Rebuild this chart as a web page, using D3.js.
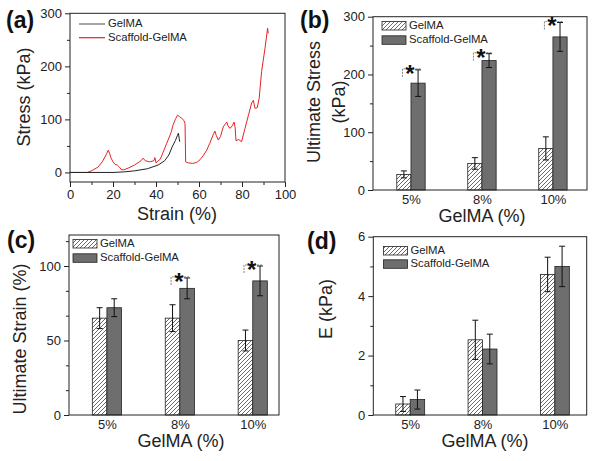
<!DOCTYPE html>
<html><head><meta charset="utf-8">
<script src="https://cdn.jsdelivr.net/npm/d3@7"></script>
<style>
html,body{margin:0;padding:0;background:#fff;}
svg{display:block;font-family:"Liberation Sans",Arial,sans-serif;}
</style></head>
<body>
<svg id="c" width="601" height="461"></svg>
<script>
// ---------- DATA ----------
const categories = ["5%", "8%", "10%"];
const seriesNames = ["GelMA", "Scaffold-GelMA"];

// (a) stress-strain curves [strain %, stress kPa]
const curveGelMA = [[0,0],[20,0],[25,1],[30,3],[36,7],[41,14],[44,22],[46,33],[47.5,48],[49,60],[50,70],[50.4,74],[50.8,64],[51,58]];
const curveScaffold = [[0,0],[8,0],[10,3],[13,10],[15,20],[17,35],[17.8,42],[18.5,35],[19,28],[20,20],[21,15],[22,14],[23,10],[24,5],[25,5],[27,8],[30,14],[33,22],[34,27],[35,22],[37,20],[39,22],[39.5,28],[40,18],[41,22],[42,25],[43,35],[45,55],[47,75],[48,90],[49,100],[50,108],[51,105],[52,102],[53,98],[53.5,92],[53.8,20],[55,18],[57,17],[59,19],[60.5,24],[62,32],[63.6,42],[65,55],[66.7,72],[67.4,78],[68,70],[69,61],[70,68],[71.3,86],[72.9,95],[73.5,88],[74.4,83],[75.5,88],[76.3,95],[76.8,85],[77.2,60],[78.5,62],[79.8,58],[81.4,83],[83,108],[84.5,131],[85.3,136],[86,121],[87.1,122],[88,140],[89.1,190],[90.7,234],[91.9,272],[92.2,262]];
const aXTicks = [0,20,40,60,80,100];
const aYTicks = [0,100,200,300];

// (b) ultimate stress (kPa)
const stressGelMA = [27, 46, 72];
const stressGelMAErr = [6, 10, 20];
const stressScaffold = [185, 224, 265];
const stressScaffoldErr = [23, 12, 25];
const stressSig = [true, true, true];
const bYTicks = [0,100,200,300];

// (c) ultimate strain (%)
const strainGelMA = [65, 65, 50];
const strainGelMAErr = [7, 9, 7];
const strainScaffold = [72, 85, 90];
const strainScaffoldErr = [6, 7, 10];
const strainSig = [false, true, true];
const cYTicks = [0,50,100];

// (d) modulus E (kPa)
const modGelMA = [0.37, 2.53, 4.73];
const modGelMAErr = [0.25, 0.66, 0.58];
const modScaffold = [0.52, 2.22, 5.0];
const modScaffoldErr = [0.32, 0.5, 0.68];
const modSig = [false, false, false];
const dYTicks = [0,2,4,6];

// ---------- DRAW ----------
const svg = d3.select("#c");
const FILL = "#6e6e6e";
const defs = svg.append("defs");
const pat = defs.append("pattern").attr("id","hatch").attr("patternUnits","userSpaceOnUse")
  .attr("width",4).attr("height",4);
pat.append("rect").attr("width",4).attr("height",4).attr("fill","#fff");
pat.append("path").attr("d","M-1,1 l2,-2 M0,4 l4,-4 M3,5 l2,-2").attr("stroke","#444").attr("stroke-width",0.8);

function frame(g, x0, x1, y0, y1){
  g.append("rect").attr("x",x0).attr("y",y1).attr("width",x1-x0).attr("height",y0-y1)
   .attr("fill","none").attr("stroke","#222").attr("stroke-width",1);
}
function yAxis(g, y, x0, ticks, minor){
  const ax = d3.axisLeft(y).tickValues(ticks).tickSize(5).tickPadding(3).tickFormat(d3.format("d"));
  const ga = g.append("g").attr("transform",`translate(${x0},0)`).call(ax);
  ga.select(".domain").remove();
  ga.selectAll("text").attr("font-size",13).attr("fill","#222");
  ga.selectAll("line").attr("stroke","#222");
  const gm = g.append("g").attr("transform",`translate(${x0},0)`).call(d3.axisLeft(y).tickValues(minor).tickSize(3).tickFormat(""));
  gm.select(".domain").remove(); gm.selectAll("line").attr("stroke","#222");
}
function xAxisLin(g, x, y0, ticks, minor){
  const ga = g.append("g").attr("transform",`translate(0,${y0})`).call(d3.axisBottom(x).tickValues(ticks).tickSize(5).tickPadding(3));
  ga.select(".domain").remove();
  ga.selectAll("text").attr("font-size",13).attr("fill","#222");
  ga.selectAll("line").attr("stroke","#222");
  const gm = g.append("g").attr("transform",`translate(0,${y0})`).call(d3.axisBottom(x).tickValues(minor).tickSize(3).tickFormat(""));
  gm.select(".domain").remove(); gm.selectAll("line").attr("stroke","#222");
}
function label(txt, x, y){
  svg.append("text").attr("x",x).attr("y",y).attr("font-size",23).attr("font-weight","bold")
    .attr("dominant-baseline","middle").attr("fill","#111").text(txt);
}
function title(txt, x, y, rot, size){
  const t = svg.append("text").attr("text-anchor","middle").attr("dominant-baseline","middle")
    .attr("font-size",size||18).attr("fill","#222").text(txt);
  if(rot) t.attr("transform",`translate(${x},${y}) rotate(-90)`); else t.attr("x",x).attr("y",y);
}

// ---- Panel (a)
{
  const g = svg.append("g");
  const x = d3.scaleLinear().domain([0,100]).range([70,285]);
  const y = d3.scaleLinear().domain([-18,300]).range([182,13.3]);
  frame(g,70,285,182,13.3);
  yAxis(g,y,70,aYTicks,[50,150,250]);
  xAxisLin(g,x,182,aXTicks,[10,30,50,70,90]);
  const line = d3.line().x(d=>x(d[0])).y(d=>y(d[1]));
  g.append("path").datum(curveScaffold).attr("d",line).attr("fill","none").attr("stroke","#e82222").attr("stroke-width",1);
  g.append("path").datum(curveGelMA).attr("d",line).attr("fill","none").attr("stroke","#222").attr("stroke-width",1);
  const lg = [["#666",24],["#e82222",37.7]];
  seriesNames.forEach((n,i)=>{
    g.append("line").attr("x1",79).attr("x2",105).attr("y1",lg[i][1]).attr("y2",lg[i][1]).attr("stroke",lg[i][0]).attr("stroke-width",1.2);
    g.append("text").attr("x",108).attr("y",lg[i][1]).attr("dominant-baseline","middle").attr("font-size",11.3).attr("fill","#222").text(n);
  });
  label("(a)",6,22);
  title("Stress (kPa)",25,97,true);
  title("Strain (%)",177,215,false);
}

// ---- bar panels
function barPanel(o){
  const g = svg.append("g");
  const x = d3.scaleLinear().domain(o.xdom).range([o.x0,o.x1]);
  const y = d3.scaleLinear().domain(o.ydom).range([o.y0,o.y1]);
  const bw = 0.2;
  const idx = categories.map((c,i)=>i+1);
  g.selectAll(".bg").data(idx).join("rect")
    .attr("x",d=>x(d-bw)).attr("width",d=>x(d)-x(d-bw))
    .attr("y",(d,i)=>y(o.g[i])).attr("height",(d,i)=>y(0)-y(o.g[i]))
    .attr("fill","url(#hatch)").attr("stroke","#222").attr("stroke-width",0.8);
  g.selectAll(".bs").data(idx).join("rect")
    .attr("x",d=>x(d)).attr("width",d=>x(d+bw)-x(d))
    .attr("y",(d,i)=>y(o.s[i])).attr("height",(d,i)=>y(0)-y(o.s[i]))
    .attr("fill",FILL).attr("stroke","#222").attr("stroke-width",0.8);
  function err(vals, errs, off){
    idx.forEach((d,i)=>{
      const cx = x(d+off);
      g.append("line").attr("x1",cx).attr("x2",cx).attr("y1",y(vals[i]+errs[i])).attr("y2",y(vals[i]-errs[i])).attr("stroke","#111").attr("stroke-width",1);
      [vals[i]+errs[i], vals[i]-errs[i]].forEach(v=>{
        g.append("line").attr("x1",cx-3).attr("x2",cx+3).attr("y1",y(v)).attr("y2",y(v)).attr("stroke","#111").attr("stroke-width",1);
      });
    });
  }
  err(o.g,o.ge,-bw/2);
  err(o.s,o.se,bw/2);
  idx.forEach((d,i)=>{
    if(!o.sig[i]) return;
    const top = Math.min(y(o.s[i]+o.se[i]), y(o.g[i]+o.ge[i])) - 1;
    const xl = x(d-bw*0.6), xr = x(d+bw*0.65);
    g.append("path").attr("d",`M${xl},${top+8} V${top} H${xr} V${y(o.s[i]+o.se[i])}`)
      .attr("fill","none").attr("stroke","#666").attr("stroke-width",0.8).attr("stroke-dasharray","2,1");
    g.append("rect").attr("x",x(d)-6).attr("y",top-2).attr("width",10).attr("height",4).attr("fill","#fff");
    g.append("text").attr("x",x(d)-1).attr("y",top+13).attr("text-anchor","middle").attr("font-size",24)
      .attr("font-weight","bold").attr("fill","#111").text("*");
  });
  frame(g,o.x0,o.x1,o.y0,o.y1);
  yAxis(g,y,o.x0,o.yt,o.ym);
  const ga = g.append("g").attr("transform",`translate(0,${o.y0})`)
    .call(d3.axisBottom(x).tickValues(idx).tickSize(0).tickPadding(5).tickFormat((d)=>categories[d-1]));
  ga.select(".domain").remove();
  ga.selectAll("text").attr("font-size",13).attr("fill","#222");
  const boxes = [["url(#hatch)",o.lg[1]],[FILL,o.lg[2]]];
  seriesNames.forEach((n,i)=>{
    g.append("rect").attr("x",o.lg[0]).attr("y",boxes[i][1]).attr("width",24).attr("height",8.5)
      .attr("fill",boxes[i][0]).attr("stroke","#222").attr("stroke-width",0.8);
    g.append("text").attr("x",o.lg[0]+27).attr("y",boxes[i][1]+4.5).attr("dominant-baseline","middle")
      .attr("font-size",11.3).attr("fill","#222").text(n);
  });
  label(o.label,o.lx,o.ly);
  o.yt2.forEach(t=>title(t[0],t[1],o.ytY,true));
  title("GelMA (%)",o.xtX,o.xtY,false);
}

barPanel({x0:373,x1:587,y0:190,y1:16.7,xdom:[0.465,3.48],ydom:[0,300],
  g:stressGelMA,ge:stressGelMAErr,s:stressScaffold,se:stressScaffoldErr,sig:stressSig,
  yt:bYTicks,ym:[50,150,250],lg:[382,21.5,35.8],label:"(b)",lx:300,ly:22,
  yt2:[["Ultimate Stress",315],["(kPa)",340]],ytY:102,xtX:482,xtY:217});

barPanel({x0:69,x1:279,y0:415,y1:235,xdom:[0.48,3.36],ydom:[0,120.8],
  g:strainGelMA,ge:strainGelMAErr,s:strainScaffold,se:strainScaffoldErr,sig:strainSig,
  yt:cYTicks,ym:[16.67,33.33,66.67,83.33,116.67],lg:[73,239.5,253.8],label:"(c)",lx:7,ly:242,
  yt2:[["Ultimate Strain (%)",21]],ytY:339,xtX:181,xtY:442});

barPanel({x0:373.3,x1:586.7,y0:415,y1:236.7,xdom:[0.49,3.44],ydom:[0,6],
  g:modGelMA,ge:modGelMAErr,s:modScaffold,se:modScaffoldErr,sig:modSig,
  yt:dYTicks,ym:[1,3,5],lg:[383.5,246.5,259.8],label:"(d)",lx:307,ly:243,
  yt2:[["E (kPa)",327]],ytY:309,xtX:485,xtY:442});
</script>
</body></html>
